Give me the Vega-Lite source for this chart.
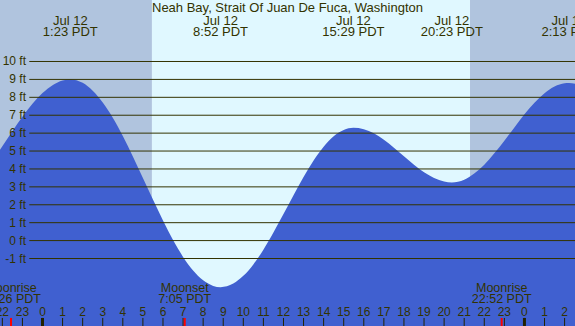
{
  "$schema": "https://vega.github.io/schema/vega-lite/v6.json",
  "width": 575,
  "height": 326,
  "padding": 0,
  "autosize": {"type": "none"},
  "background": "#ffffff",
  "config": {
    "view": {"stroke": null},
    "text": {"font": "Liberation Sans", "fontSize": 12, "color": "#333300"}
  },
  "datasets": {
    "heading": [
      {"t": 12.2, "name": "Neah Bay, Strait Of Juan De Fuca, Washington"}
    ],
    "sun": [
      {"start": -3, "end": 5.45, "kind": "night"},
      {"start": 5.45, "end": 21.29, "kind": "day"},
      {"start": 21.29, "end": 28, "kind": "night"}
    ],
    "tide": [
      {"t": -2.5, "ft": 4.45}, {"t": -2, "ft": 5.27}, {"t": -1.5, "ft": 6.11}, {"t": -1, "ft": 6.91},
      {"t": -0.5, "ft": 7.64}, {"t": 0, "ft": 8.24}, {"t": 0.5, "ft": 8.68}, {"t": 1, "ft": 8.94},
      {"t": 1.383, "ft": 9.0}, {"t": 2, "ft": 8.81}, {"t": 2.5, "ft": 8.37}, {"t": 3, "ft": 7.71},
      {"t": 3.5, "ft": 6.86}, {"t": 4, "ft": 5.84}, {"t": 4.5, "ft": 4.7}, {"t": 5, "ft": 3.5},
      {"t": 5.5, "ft": 2.29}, {"t": 6, "ft": 1.12}, {"t": 6.5, "ft": 0.03}, {"t": 7, "ft": -0.91},
      {"t": 7.5, "ft": -1.67}, {"t": 8, "ft": -2.22}, {"t": 8.5, "ft": -2.53}, {"t": 8.867, "ft": -2.6},
      {"t": 9.5, "ft": -2.4}, {"t": 10, "ft": -1.97}, {"t": 10.5, "ft": -1.33}, {"t": 11, "ft": -0.51},
      {"t": 11.5, "ft": 0.45}, {"t": 12, "ft": 1.48}, {"t": 12.5, "ft": 2.53}, {"t": 13, "ft": 3.55},
      {"t": 13.5, "ft": 4.47}, {"t": 14, "ft": 5.24}, {"t": 14.5, "ft": 5.83}, {"t": 15, "ft": 6.18},
      {"t": 15.483, "ft": 6.3}, {"t": 16, "ft": 6.22}, {"t": 16.5, "ft": 5.99}, {"t": 17, "ft": 5.63},
      {"t": 17.5, "ft": 5.19}, {"t": 18, "ft": 4.71}, {"t": 18.5, "ft": 4.23}, {"t": 19, "ft": 3.81},
      {"t": 19.5, "ft": 3.49}, {"t": 20, "ft": 3.3}, {"t": 20.383, "ft": 3.25}, {"t": 21, "ft": 3.4},
      {"t": 21.5, "ft": 3.74}, {"t": 22, "ft": 4.24}, {"t": 22.5, "ft": 4.87}, {"t": 23, "ft": 5.58},
      {"t": 23.5, "ft": 6.32}, {"t": 24, "ft": 7.05}, {"t": 24.5, "ft": 7.7}, {"t": 25, "ft": 8.23},
      {"t": 25.5, "ft": 8.6}, {"t": 26, "ft": 8.78}, {"t": 26.217, "ft": 8.8}, {"t": 27, "ft": 8.6}
    ],
    "extremes": [
      {"t": 1.383, "day": "Jul 12", "time": "1:23 PDT"},
      {"t": 8.867, "day": "Jul 12", "time": "8:52 PDT"},
      {"t": 15.483, "day": "Jul 12", "time": "15:29 PDT"},
      {"t": 20.383, "day": "Jul 12", "time": "20:23 PDT"},
      {"t": 26.217, "day": "Jul 13", "time": "2:13 PDT"}
    ],
    "levels": [
      {"ft": -1, "label": "-1 ft"}, {"ft": 0, "label": "0 ft"}, {"ft": 1, "label": "1 ft"},
      {"ft": 2, "label": "2 ft"}, {"ft": 3, "label": "3 ft"}, {"ft": 4, "label": "4 ft"},
      {"ft": 5, "label": "5 ft"}, {"ft": 6, "label": "6 ft"}, {"ft": 7, "label": "7 ft"},
      {"ft": 8, "label": "8 ft"}, {"ft": 9, "label": "9 ft"}, {"ft": 10, "label": "10 ft"}
    ],
    "hours": [
      {"t": -2, "label": "22"}, {"t": -1, "label": "23"}, {"t": 0, "label": "0"}, {"t": 1, "label": "1"},
      {"t": 2, "label": "2"}, {"t": 3, "label": "3"}, {"t": 4, "label": "4"}, {"t": 5, "label": "5"},
      {"t": 6, "label": "6"}, {"t": 7, "label": "7"}, {"t": 8, "label": "8"}, {"t": 9, "label": "9"},
      {"t": 10, "label": "10"}, {"t": 11, "label": "11"}, {"t": 12, "label": "12"}, {"t": 13, "label": "13"},
      {"t": 14, "label": "14"}, {"t": 15, "label": "15"}, {"t": 16, "label": "16"}, {"t": 17, "label": "17"},
      {"t": 18, "label": "18"}, {"t": 19, "label": "19"}, {"t": 20, "label": "20"}, {"t": 21, "label": "21"},
      {"t": 22, "label": "22"}, {"t": 23, "label": "23"}, {"t": 24, "label": "0"}, {"t": 25, "label": "1"},
      {"t": 26, "label": "2"}
    ],
    "moon": [
      {"t": -1.567, "event": "Moonrise", "time": "22:26 PDT"},
      {"t": 7.083, "event": "Moonset", "time": "7:05 PDT"},
      {"t": 22.867, "event": "Moonrise", "time": "22:52 PDT"}
    ]
  },
  "layer": [
    {
      "data": {"name": "sun"},
      "mark": {"type": "rect", "clip": true},
      "encoding": {
        "x": {"field": "start", "type": "quantitative", "axis": null, "scale": {"domain": [-2.1165, 26.518], "nice": false, "zero": false}},
        "x2": {"field": "end"},
        "color": {"field": "kind", "type": "nominal", "legend": null, "scale": {"domain": ["night", "day"], "range": ["#b0c4de", "#e0f8ff"]}}
      }
    },
    {
      "data": {"name": "tide"},
      "mark": {"type": "area", "interpolate": "monotone", "clip": true, "color": "#4060d0"},
      "encoding": {
        "x": {"field": "t", "type": "quantitative", "axis": null, "scale": {"domain": [-2.1165, 26.518], "nice": false, "zero": false}},
        "y": {"field": "ft", "type": "quantitative", "axis": null, "scale": {"domain": [-4.769, 13.434], "nice": false, "zero": false}},
        "y2": {"datum": -4.769}
      }
    },
    {
      "data": {"name": "levels"},
      "mark": {"type": "rule", "color": "#333300", "strokeWidth": 1},
      "encoding": {
        "y": {"field": "ft", "type": "quantitative", "axis": null, "scale": {"domain": [-4.769, 13.434], "nice": false, "zero": false}},
        "x": {"datum": -0.657, "type": "quantitative", "axis": null, "scale": {"domain": [-2.1165, 26.518], "nice": false, "zero": false}},
        "x2": {"datum": 26.518}
      }
    },
    {
      "data": {"name": "levels"},
      "mark": {"type": "text", "align": "right", "baseline": "middle"},
      "encoding": {
        "y": {"field": "ft", "type": "quantitative", "axis": null, "scale": {"domain": [-4.769, 13.434], "nice": false, "zero": false}},
        "x": {"datum": -0.82, "type": "quantitative", "axis": null, "scale": {"domain": [-2.1165, 26.518], "nice": false, "zero": false}},
        "text": {"field": "label"}
      }
    },
    {
      "data": {"name": "heading"},
      "mark": {"type": "text", "align": "center", "baseline": "alphabetic", "fontSize": 13},
      "encoding": {
        "x": {"field": "t", "type": "quantitative", "axis": null, "scale": {"domain": [-2.1165, 26.518], "nice": false, "zero": false}},
        "y": {"datum": 12.76, "type": "quantitative", "axis": null, "scale": {"domain": [-4.769, 13.434], "nice": false, "zero": false}},
        "text": {"field": "name"}
      }
    },
    {
      "data": {"name": "extremes"},
      "mark": {"type": "text", "align": "center", "baseline": "alphabetic", "fontSize": 13},
      "encoding": {
        "x": {"field": "t", "type": "quantitative", "axis": null, "scale": {"domain": [-2.1165, 26.518], "nice": false, "zero": false}},
        "y": {"datum": 12.04, "type": "quantitative", "axis": null, "scale": {"domain": [-4.769, 13.434], "nice": false, "zero": false}},
        "text": {"field": "day"}
      }
    },
    {
      "data": {"name": "extremes"},
      "mark": {"type": "text", "align": "center", "baseline": "alphabetic", "fontSize": 13},
      "encoding": {
        "x": {"field": "t", "type": "quantitative", "axis": null, "scale": {"domain": [-2.1165, 26.518], "nice": false, "zero": false}},
        "y": {"datum": 11.42, "type": "quantitative", "axis": null, "scale": {"domain": [-4.769, 13.434], "nice": false, "zero": false}},
        "text": {"field": "time"}
      }
    },
    {
      "data": {"name": "moon"},
      "mark": {"type": "text", "align": "center", "baseline": "alphabetic", "fontSize": 12.5},
      "encoding": {
        "x": {"field": "t", "type": "quantitative", "axis": null, "scale": {"domain": [-2.1165, 26.518], "nice": false, "zero": false}},
        "y": {"datum": -2.87, "type": "quantitative", "axis": null, "scale": {"domain": [-4.769, 13.434], "nice": false, "zero": false}},
        "text": {"field": "event"}
      }
    },
    {
      "data": {"name": "moon"},
      "mark": {"type": "text", "align": "center", "baseline": "alphabetic", "fontSize": 12.5},
      "encoding": {
        "x": {"field": "t", "type": "quantitative", "axis": null, "scale": {"domain": [-2.1165, 26.518], "nice": false, "zero": false}},
        "y": {"datum": -3.49, "type": "quantitative", "axis": null, "scale": {"domain": [-4.769, 13.434], "nice": false, "zero": false}},
        "text": {"field": "time"}
      }
    },
    {
      "data": {"name": "hours"},
      "mark": {"type": "text", "align": "center", "baseline": "alphabetic", "fontSize": 12},
      "encoding": {
        "x": {"field": "t", "type": "quantitative", "axis": null, "scale": {"domain": [-2.1165, 26.518], "nice": false, "zero": false}},
        "y": {"datum": -4.21, "type": "quantitative", "axis": null, "scale": {"domain": [-4.769, 13.434], "nice": false, "zero": false}},
        "text": {"field": "label"}
      }
    },
    {
      "data": {"name": "hours"},
      "mark": {"type": "rule", "color": "#222200", "strokeWidth": 1},
      "encoding": {
        "x": {"field": "t", "type": "quantitative", "axis": null, "scale": {"domain": [-2.1165, 26.518], "nice": false, "zero": false}},
        "y": {"datum": -4.32, "type": "quantitative", "axis": null, "scale": {"domain": [-4.769, 13.434], "nice": false, "zero": false}},
        "y2": {"datum": -4.769}
      }
    },
    {
      "data": {"name": "hours"},
      "transform": [{"filter": "datum.label == '0'"}],
      "mark": {"type": "rule", "color": "#222200", "strokeWidth": 3},
      "encoding": {
        "x": {"field": "t", "type": "quantitative", "axis": null, "scale": {"domain": [-2.1165, 26.518], "nice": false, "zero": false}},
        "y": {"datum": -4.32, "type": "quantitative", "axis": null, "scale": {"domain": [-4.769, 13.434], "nice": false, "zero": false}},
        "y2": {"datum": -4.769}
      }
    },
    {
      "data": {"name": "moon"},
      "mark": {"type": "rule", "color": "#ff0000", "strokeWidth": 2},
      "encoding": {
        "x": {"field": "t", "type": "quantitative", "axis": null, "scale": {"domain": [-2.1165, 26.518], "nice": false, "zero": false}},
        "y": {"datum": -4.32, "type": "quantitative", "axis": null, "scale": {"domain": [-4.769, 13.434], "nice": false, "zero": false}},
        "y2": {"datum": -4.769}
      }
    }
  ]
}
